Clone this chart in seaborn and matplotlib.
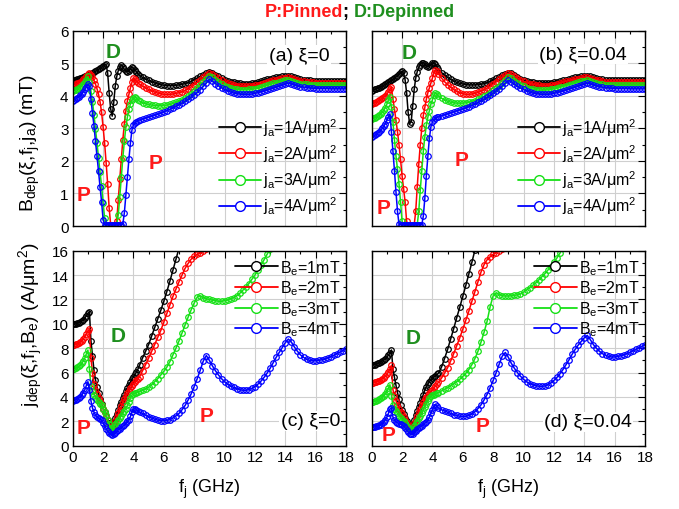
import numpy as np
import pandas as pd
import matplotlib
matplotlib.use("Agg")
import matplotlib.pyplot as plt
import seaborn as sns
from matplotlib.lines import Line2D
from matplotlib.ticker import MultipleLocator

# ---------------- data ----------------
# frequency sampling grid (GHz): 0.0..4.4 step 0.1, then 4.6..18.0 step 0.2
freq = list(np.round(np.arange(0, 4.45, 0.1), 1)) + list(np.round(np.arange(4.6, 18.05, 0.2), 1))

current_labels = ["1", "2", "3", "4"]      # j_a (A/um^2)
field_labels = ["1", "2", "3", "4"]        # B_e (mT)
series_colors = ["#000000", "#ff0000", "#16e016", "#0000ff"]

# (a) xi = 0 : B_dep vs f_j
a_j1 = [4.47,4.48,4.50,4.51,4.53,4.54,4.56,4.58,4.60,4.62,
        4.64,4.66,4.68,4.70,4.73,4.76,4.79,4.82,4.85,4.88,
        4.92,4.96,4.97,4.70,4.10,3.60,3.38,3.80,4.30,4.60,
        4.78,4.90,4.95,4.90,4.82,4.76,4.74,4.78,4.84,4.88,
        4.86,4.80,4.74,4.68,4.63,
        4.57,4.52,4.48,4.44,4.40,4.37,4.35,4.33,4.32,4.32,
        4.32,4.33,4.34,4.36,4.38,4.41,4.45,4.50,4.55,4.60,
        4.66,4.71,4.75,4.72,4.66,4.60,4.55,4.50,4.47,4.44,
        4.42,4.40,4.39,4.38,4.38,4.38,4.39,4.41,4.43,4.46,
        4.48,4.51,4.53,4.55,4.57,4.59,4.61,4.62,4.63,4.60,
        4.57,4.54,4.52,4.50,4.49,4.48,4.47,4.47,4.46,4.46,
        4.46,4.46,4.45,4.45,4.45,4.45,4.45,4.45]
a_j2 = [4.33,4.35,4.37,4.39,4.41,4.44,4.47,4.51,4.56,4.62,
        4.67,4.71,4.66,4.58,4.48,4.36,4.22,4.05,3.82,3.50,
        3.05,2.55,1.95,1.30,0.55,0.04,0.04,0.04,0.04,0.15,
        0.80,1.45,2.05,2.65,3.15,3.55,3.85,4.05,4.25,4.42,
        4.55,4.52,4.46,4.41,4.36,
        4.30,4.25,4.20,4.16,4.12,4.09,4.07,4.05,4.05,4.05,
        4.06,4.08,4.10,4.13,4.17,4.22,4.28,4.35,4.42,4.49,
        4.57,4.65,4.71,4.68,4.61,4.54,4.48,4.43,4.39,4.36,
        4.34,4.32,4.31,4.30,4.30,4.30,4.31,4.33,4.35,4.38,
        4.40,4.43,4.45,4.48,4.50,4.52,4.54,4.56,4.57,4.55,
        4.52,4.49,4.47,4.45,4.43,4.42,4.42,4.41,4.41,4.41,
        4.40,4.40,4.40,4.40,4.40,4.40,4.40,4.40]
a_j3 = [4.15,4.17,4.19,4.21,4.24,4.27,4.31,4.36,4.42,4.50,
        4.60,4.42,4.15,3.83,3.42,2.98,2.55,2.10,1.65,1.24,
        0.72,0.25,0.04,0.04,0.04,0.04,0.04,0.04,0.04,0.04,
        0.35,0.90,1.50,2.10,2.60,3.05,3.35,3.60,3.75,3.87,
        3.95,3.98,3.93,3.88,3.84,
        3.79,3.76,3.74,3.72,3.71,3.70,3.70,3.71,3.72,3.74,
        3.77,3.80,3.84,3.89,3.94,4.00,4.07,4.15,4.24,4.33,
        4.42,4.52,4.62,4.57,4.49,4.42,4.36,4.31,4.27,4.24,
        4.22,4.20,4.19,4.19,4.19,4.20,4.21,4.23,4.25,4.28,
        4.30,4.33,4.36,4.39,4.41,4.44,4.46,4.48,4.50,4.47,
        4.44,4.41,4.38,4.37,4.36,4.35,4.34,4.34,4.34,4.33,
        4.33,4.33,4.33,4.33,4.33,4.33,4.33,4.33]
a_j4 = [3.85,3.88,3.91,3.94,3.98,4.02,4.07,4.13,4.20,4.28,
        4.36,4.30,3.90,3.48,3.09,2.60,2.15,1.68,1.20,0.75,
        0.20,0.04,0.04,0.04,0.04,0.04,0.04,0.04,0.04,0.04,
        0.04,0.04,0.04,0.06,0.40,0.95,1.50,2.05,2.55,2.95,
        3.12,3.18,3.21,3.24,3.26,
        3.29,3.32,3.35,3.38,3.41,3.44,3.47,3.51,3.55,3.59,
        3.63,3.68,3.73,3.78,3.84,3.90,3.97,4.04,4.11,4.19,
        4.30,4.40,4.52,4.46,4.38,4.31,4.25,4.20,4.16,4.12,
        4.09,4.07,4.06,4.05,4.05,4.05,4.06,4.08,4.10,4.13,
        4.15,4.18,4.21,4.24,4.27,4.30,4.33,4.36,4.40,4.37,
        4.34,4.31,4.29,4.27,4.26,4.25,4.24,4.23,4.23,4.23,
        4.23,4.23,4.22,4.22,4.22,4.22,4.22,4.22]

# (b) xi = 0.04 : B_dep vs f_j
b_j1 = [4.16,4.18,4.20,4.22,4.24,4.26,4.28,4.30,4.33,4.36,
        4.39,4.42,4.45,4.48,4.51,4.55,4.59,4.63,4.68,4.73,
        4.76,4.70,4.50,4.10,3.50,3.15,3.20,3.70,4.20,4.55,
        4.75,4.88,4.96,5.02,5.03,4.98,4.93,4.90,4.92,4.96,
        5.00,5.02,4.98,4.90,4.82,
        4.72,4.64,4.57,4.51,4.46,4.42,4.39,4.37,4.35,4.34,
        4.34,4.34,4.35,4.36,4.38,4.41,4.45,4.49,4.54,4.59,
        4.64,4.69,4.72,4.70,4.64,4.58,4.53,4.49,4.46,4.44,
        4.42,4.41,4.40,4.40,4.40,4.40,4.41,4.42,4.44,4.46,
        4.48,4.50,4.53,4.55,4.57,4.59,4.61,4.62,4.63,4.61,
        4.58,4.55,4.53,4.51,4.50,4.49,4.49,4.48,4.48,4.48,
        4.48,4.48,4.48,4.48,4.48,4.48,4.48,4.48]
b_j2 = [3.75,3.77,3.79,3.81,3.84,3.87,3.90,3.93,3.97,4.01,
        4.06,4.12,4.20,4.28,3.90,3.60,3.25,2.90,2.50,2.05,
        1.55,1.15,0.75,0.15,0.04,0.04,0.04,0.04,0.04,0.45,
        1.20,1.90,2.50,3.00,3.40,3.65,3.90,4.10,4.25,4.40,
        4.55,4.70,4.80,4.76,4.68,
        4.55,4.44,4.35,4.27,4.20,4.14,4.10,4.07,4.05,4.05,
        4.06,4.08,4.11,4.15,4.19,4.24,4.30,4.37,4.44,4.51,
        4.58,4.65,4.70,4.68,4.62,4.56,4.50,4.45,4.41,4.38,
        4.36,4.34,4.33,4.32,4.32,4.32,4.33,4.35,4.37,4.40,
        4.42,4.45,4.47,4.49,4.51,4.53,4.55,4.57,4.58,4.56,
        4.53,4.50,4.48,4.46,4.44,4.43,4.43,4.42,4.42,4.42,
        4.42,4.42,4.42,4.42,4.42,4.42,4.42,4.42]
b_j3 = [3.29,3.31,3.33,3.35,3.38,3.41,3.45,3.50,3.56,3.64,
        3.75,3.88,3.98,3.65,3.20,2.65,2.15,1.75,1.30,0.75,
        0.15,0.04,0.04,0.04,0.04,0.04,0.04,0.04,0.04,0.04,
        0.04,0.45,1.10,1.70,2.30,2.75,3.10,3.35,3.55,3.75,
        3.88,4.02,4.10,4.05,4.00,
        3.93,3.88,3.84,3.81,3.79,3.78,3.78,3.78,3.79,3.81,
        3.83,3.86,3.90,3.94,3.99,4.04,4.10,4.17,4.24,4.32,
        4.40,4.49,4.57,4.54,4.47,4.41,4.35,4.30,4.26,4.23,
        4.21,4.19,4.18,4.18,4.18,4.19,4.20,4.22,4.24,4.27,
        4.29,4.32,4.35,4.38,4.40,4.43,4.45,4.47,4.49,4.46,
        4.43,4.40,4.37,4.36,4.35,4.34,4.33,4.33,4.33,4.33,
        4.33,4.33,4.33,4.33,4.33,4.33,4.33,4.33]
b_j4 = [2.73,2.76,2.79,2.82,2.86,2.90,2.95,3.00,3.07,3.15,
        3.25,3.35,3.45,2.90,2.30,1.70,1.05,0.45,0.06,0.04,
        0.04,0.04,0.04,0.04,0.04,0.04,0.04,0.04,0.04,0.04,
        0.04,0.04,0.04,0.04,0.30,0.85,1.55,2.15,2.70,3.05,
        3.20,3.27,3.31,3.34,3.36,
        3.39,3.42,3.45,3.48,3.51,3.54,3.57,3.60,3.63,3.67,
        3.71,3.75,3.80,3.85,3.90,3.96,4.02,4.09,4.16,4.23,
        4.31,4.39,4.48,4.44,4.37,4.30,4.25,4.20,4.16,4.12,
        4.09,4.07,4.06,4.05,4.05,4.05,4.06,4.08,4.10,4.13,
        4.15,4.18,4.21,4.24,4.27,4.30,4.33,4.36,4.40,4.37,
        4.34,4.31,4.29,4.27,4.26,4.25,4.24,4.23,4.23,4.23,
        4.23,4.23,4.22,4.22,4.22,4.22,4.22,4.22]

# (c) xi = 0 : j_dep vs f_j   (curves leave the frame above 16)
c_b1 = [9.95,9.97,10.00,10.05,10.10,10.17,10.25,10.35,10.48,10.65,
        10.85,11.00,8.60,7.40,6.20,5.40,4.80,4.30,3.85,3.40,
        3.05,2.75,2.45,2.15,1.90,1.70,1.55,1.95,2.30,2.60,
        2.95,3.30,3.60,3.90,4.20,4.50,4.75,5.00,5.20,5.45,
        5.65,5.85,6.05,6.30,6.60,
        7.20,7.75,8.30,9.00,9.70,10.40,11.10,11.85,12.65,13.50,
        14.40,15.30,16.20]
c_b2 = [8.26,8.28,8.32,8.36,8.42,8.50,8.60,8.75,8.95,9.20,
        9.40,9.55,7.20,6.00,5.10,4.60,4.25,3.95,3.65,3.35,
        3.05,2.75,2.40,2.10,1.80,1.55,1.40,1.70,2.05,2.35,
        2.65,2.95,3.25,3.55,3.80,4.05,4.30,4.50,4.70,4.90,
        5.05,5.20,5.35,5.50,5.65,
        6.15,6.65,7.20,7.75,8.30,8.90,9.45,10.15,10.85,11.55,
        12.25,12.85,13.45,14.00,14.55,14.95,15.30,15.55,15.70,15.80,
        15.95,16.10]
c_b3 = [6.30,6.33,6.37,6.42,6.50,6.60,6.75,6.95,7.20,7.55,
        7.85,6.30,4.90,4.50,4.20,3.95,3.75,3.60,3.45,3.30,
        3.05,2.80,2.50,2.15,1.80,1.45,1.25,1.50,1.75,1.95,
        2.10,2.25,2.45,2.65,2.85,3.05,3.30,3.60,3.95,4.15,
        4.25,4.30,4.35,4.40,4.45,
        4.55,4.65,4.80,5.00,5.25,5.50,5.80,6.10,6.45,6.90,
        7.45,8.00,8.60,9.25,9.90,10.55,11.15,11.70,12.20,12.30,
        12.15,12.05,12.00,11.95,11.90,11.85,11.85,11.90,11.95,12.05,
        12.15,12.30,12.50,12.75,13.00,13.30,13.65,14.00,14.40,14.80,
        15.25,15.70,16.15]
c_b4 = [3.70,3.73,3.78,3.84,3.92,4.02,4.15,4.35,4.60,4.95,
        5.25,4.60,3.70,3.10,2.75,2.50,2.35,2.25,2.20,2.10,
        1.90,1.65,1.40,1.20,1.05,0.92,0.85,0.95,1.05,1.20,
        1.30,1.40,1.50,1.60,1.70,1.85,2.00,2.15,2.40,2.75,
        3.00,3.05,2.95,2.85,2.75,
        2.65,2.50,2.38,2.27,2.18,2.10,2.05,2.05,2.07,2.15,
        2.28,2.45,2.65,2.95,3.30,3.75,4.25,4.85,5.50,6.20,
        6.95,7.40,7.00,6.55,6.15,5.80,5.50,5.25,5.05,4.90,
        4.78,4.68,4.60,4.55,4.55,4.60,4.70,4.85,5.05,5.30,
        5.60,5.95,6.35,6.80,7.25,7.65,8.05,8.45,8.75,8.50,
        8.10,7.75,7.45,7.25,7.10,7.00,6.97,6.97,7.00,7.05,
        7.10,7.20,7.30,7.42,7.55,7.68,7.80,7.93]

# (d) xi = 0.04 : j_dep vs f_j
d_b1 = [6.60,6.63,6.66,6.70,6.75,6.81,6.88,6.96,7.05,7.15,
        7.28,7.42,7.58,7.85,6.30,5.60,4.95,4.35,3.80,3.30,
        2.90,2.60,2.30,2.00,1.75,1.55,1.45,1.75,2.10,2.50,
        2.85,3.20,3.50,3.85,4.20,4.55,4.85,5.05,5.25,5.40,
        5.55,5.65,5.75,5.85,5.95,
        6.45,7.15,7.90,8.75,9.60,10.50,11.35,12.25,13.15,14.10,
        15.05,16.05]
d_b2 = [5.14,5.16,5.19,5.23,5.28,5.34,5.41,5.49,5.58,5.70,
        5.85,6.05,6.30,6.60,4.60,4.05,3.70,3.35,3.05,2.80,
        2.60,2.35,2.10,1.85,1.65,1.45,1.35,1.55,1.85,2.15,
        2.45,2.75,3.05,3.30,3.55,3.80,4.00,4.15,4.30,4.45,
        4.60,4.75,4.90,5.05,5.20,
        5.55,5.95,6.40,6.95,7.55,8.20,8.85,9.55,10.30,11.05,
        11.85,12.65,13.45,14.25,14.85,15.25,15.50,15.70,15.85,16.00,
        16.15]
d_b3 = [3.60,3.62,3.65,3.69,3.74,3.80,3.88,3.98,4.10,4.25,
        4.45,4.70,5.00,4.10,3.30,3.05,2.85,2.65,2.45,2.30,
        2.15,2.00,1.85,1.65,1.45,1.30,1.20,1.40,1.60,1.85,
        2.05,2.25,2.45,2.70,2.95,3.20,3.45,3.70,3.90,4.05,
        4.12,4.18,4.24,4.30,4.36,
        4.50,4.63,4.77,4.92,5.08,5.25,5.45,5.68,5.95,6.25,
        6.65,7.15,7.75,8.50,9.30,10.20,11.40,12.30,12.55,12.40,
        12.30,12.28,12.28,12.30,12.33,12.38,12.45,12.60,12.78,12.95,
        13.15,13.35,13.60,13.85,14.10,14.40,14.70,15.05,15.40,15.80,
        16.20]
d_b4 = [1.50,1.52,1.55,1.58,1.62,1.67,1.74,1.83,1.95,2.12,
        2.35,2.65,3.00,3.10,2.35,2.10,1.95,1.88,1.82,1.78,
        1.72,1.60,1.45,1.30,1.15,1.00,0.92,0.98,1.10,1.22,
        1.35,1.45,1.55,1.65,1.75,1.85,1.95,2.10,2.35,2.65,
        2.95,3.20,3.40,3.25,3.10,
        2.95,2.85,2.75,2.65,2.55,2.48,2.42,2.40,2.42,2.48,
        2.60,2.80,3.05,3.35,3.75,4.20,4.75,5.35,6.00,6.70,
        7.35,7.65,7.25,6.75,6.35,6.00,5.70,5.45,5.25,5.10,
        5.00,4.93,4.88,4.87,4.90,5.00,5.15,5.35,5.60,5.90,
        6.25,6.65,7.05,7.50,7.90,8.25,8.55,8.85,9.05,8.70,
        8.30,8.00,7.75,7.55,7.42,7.33,7.28,7.28,7.32,7.38,
        7.45,7.55,7.65,7.78,7.90,8.02,8.15,8.28]

# ---------------- style ----------------
sns.set_theme(style="white")
plt.rcParams["font.family"] = ["Liberation Sans", "DejaVu Sans"]
plt.rcParams["mathtext.fontset"] = "custom"
plt.rcParams["mathtext.rm"] = "Liberation Sans"
plt.rcParams["mathtext.it"] = "Liberation Sans:italic"
plt.rcParams["mathtext.bf"] = "Liberation Sans:bold"
plt.rcParams["text.color"] = "black"
plt.rcParams["axes.labelcolor"] = "black"
plt.rcParams["xtick.color"] = "black"
plt.rcParams["ytick.color"] = "black"

RED = "#ff1a1a"
DGREEN = "#1f8f1f"
N = len(freq)


def pad(v):
    v = list(v)[:N]
    return v + [np.nan] * (N - len(v))


fig = plt.figure(figsize=(6.79, 5.10), dpi=100)
W, H = 0.4025, 0.3824
axa = fig.add_axes([0.1071, 0.5549, W, H])
axb = fig.add_axes([0.5474, 0.5549, W, H])
axc = fig.add_axes([0.1071, 0.1241, W, H])
axd = fig.add_axes([0.5474, 0.1241, W, H])

panels = [
    (axa, [a_j1, a_j2, a_j3, a_j4], 6, 1, 0.5),
    (axb, [b_j1, b_j2, b_j3, b_j4], 6, 1, 0.5),
    (axc, [c_b1, c_b2, c_b3, c_b4], 16, 2, 1),
    (axd, [d_b1, d_b2, d_b3, d_b4], 16, 2, 1),
]

for ax, series, ymax, ymaj, ymin in panels:
    for vals, col in zip(series, series_colors):
        df = pd.DataFrame({"f": freq, "v": pad(vals)})
        sns.lineplot(data=df, x="f", y="v", ax=ax, color=col, linewidth=1.1,
                     marker="o", markersize=4.0, markerfacecolor="none",
                     markeredgecolor=col, markeredgewidth=0.9,
                     estimator=None, legend=False)
    ax.set_xlim(0, 18)
    ax.set_ylim(0, ymax)
    ax.xaxis.set_major_locator(MultipleLocator(2))
    ax.xaxis.set_minor_locator(MultipleLocator(1))
    ax.yaxis.set_major_locator(MultipleLocator(ymaj))
    ax.yaxis.set_minor_locator(MultipleLocator(ymin))
    ax.grid(True, which="major", color="#cfcfcf", linewidth=0.8)
    ax.set_axisbelow(True)
    ax.tick_params(which="both", direction="in", top=True, right=True,
                   labelsize=11, width=0.8, pad=3)
    ax.tick_params(which="major", length=5)
    ax.tick_params(which="minor", length=2.5)
    for s in ax.spines.values():
        s.set_color("black")
        s.set_linewidth(1.0)
    ax.set_xlabel("")
    ax.set_ylabel("")

for ax in (axa, axb):
    ax.tick_params(labelbottom=False)
for ax in (axb, axd):
    ax.tick_params(labelleft=False)


# legends
def handles(labels, prefix, suffix):
    return [Line2D([0], [0], color=c, lw=1.3, marker="o", markersize=7,
                   markerfacecolor="white", markeredgecolor=c, markeredgewidth=1.0,
                   label=prefix + l + suffix) for c, l in zip(series_colors, labels)]


for ax in (axa, axb):
    ax.legend(handles=handles(current_labels, r"j$_{\rm a}$=", r"A/μm$^2$"),
              loc="lower right", bbox_to_anchor=(1.005, 0.0), fontsize=11.5,
              frameon=False, handlelength=2.6, handletextpad=0.15,
              labelspacing=0.28, borderpad=0.3, borderaxespad=0.3)
for ax in (axc, axd):
    ax.legend(handles=handles(field_labels, r"B$_{\rm e}$=", "mT"),
              loc="upper right", bbox_to_anchor=(1.005, 1.0), fontsize=11.5,
              frameon=False, handlelength=2.7, handletextpad=0.12,
              labelspacing=0.12, borderpad=0.25, borderaxespad=0.2)

# panel labels
bb = dict(facecolor="white", edgecolor="none", pad=1.0)
axa.text(16.9, 5.26, "(a) ξ=0", ha="right", va="center", fontsize=14, bbox=bb)
axb.text(16.8, 5.29, "(b) ξ=0.04", ha="right", va="center", fontsize=14, bbox=bb)
axc.text(17.6, 2.05, "(c) ξ=0", ha="right", va="center", fontsize=14, bbox=bb)
axd.text(17.15, 1.97, "(d) ξ=0.04", ha="right", va="center", fontsize=14, bbox=bb)

# P / D marks
mk = dict(fontsize=15, fontweight="bold", ha="center", va="center")
axa.text(2.67, 5.36, "D", color=DGREEN, **mk)
axa.text(0.70, 0.98, "P", color=RED, **mk)
axa.text(5.48, 1.96, "P", color=RED, **mk)
axb.text(2.47, 5.34, "D", color=DGREEN, **mk)
axb.text(0.80, 0.57, "P", color=RED, **mk)
axb.text(5.90, 2.06, "P", color=RED, **mk)
axc.text(3.00, 9.08, "D", color=DGREEN, **mk)
axc.text(0.70, 1.50, "P", color=RED, **mk)
axc.text(8.80, 2.46, "P", color=RED, **mk)
axd.text(2.73, 8.90, "D", color=DGREEN, **mk)
axd.text(1.10, 0.96, "P", color=RED, **mk)
axd.text(7.28, 1.64, "P", color=RED, **mk)

# axis labels
fig.text(0.045, 0.72, r"B$_{\rm dep}$(ξ,f$_{\rm j}$,j$_{\rm a}$) (mT)", rotation=90,
         ha="center", va="center", fontsize=14)
fig.text(0.045, 0.364, r"j$_{\rm dep}$(ξ,f$_{\rm j}$,B$_{\rm e}$) (A/μm$^2$)", rotation=90,
         ha="center", va="center", fontsize=14)
fig.text(0.1071 + W / 2, 0.04, r"f$_{\rm j}$ (GHz)", ha="center", va="center", fontsize=13)
fig.text(0.5474 + W / 2, 0.04, r"f$_{\rm j}$ (GHz)", ha="center", va="center", fontsize=13)

# title in three colours
fig.canvas.draw()
r = fig.canvas.get_renderer()
ty = 0.976
t1 = fig.text(0.39, ty, "P:Pinned", color=RED, fontsize=13, fontweight="bold", ha="left", va="center")
e1 = t1.get_window_extent(r)
t2 = fig.text(e1.x1 / fig.bbox.width, ty, "; ", color="black", fontsize=13, fontweight="bold", ha="left", va="center")
e2 = t2.get_window_extent(r)
t3 = fig.text(e2.x1 / fig.bbox.width, ty, "D:Depinned", color=DGREEN, fontsize=13, fontweight="bold", ha="left", va="center")

fig.savefig("out.png", dpi=100)
